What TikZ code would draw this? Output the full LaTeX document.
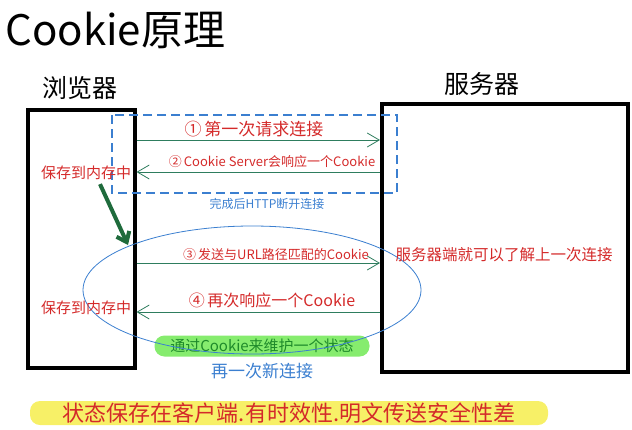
\documentclass[tikz,border=0pt]{standalone}
\usepackage{fontspec}
\setmainfont{Noto Sans CJK SC}
\usetikzlibrary{arrows.meta,positioning}
\definecolor{inkred}{HTML}{D42A2A}
\definecolor{inkteal}{HTML}{2E7D5E}
\definecolor{inkblue}{HTML}{3B7FD0}
\definecolor{inkgreen}{HTML}{1E8A2A}
\definecolor{darkgreen}{HTML}{1F6B3C}
\definecolor{hlgreen}{HTML}{86EC6E}
\definecolor{hlyellow}{HTML}{F7F067}
\tikzset{
  box/.style={draw, line width=4pt, inner sep=0pt},
  flow/.style={draw=inkteal, line width=0.8pt, -{Straight Barb[length=12pt,width=14pt,line width=0.8pt]}},
  note/.style={text=inkred, font=\fontsize{15}{17}\selectfont, inner sep=1pt},
}
\begin{document}
\begin{tikzpicture}[x=1pt,y=-1pt]
  \useasboundingbox (0,0) rectangle (632,429);
  % titles
  \node [anchor=west, font=\fontsize{42}{44}\selectfont] (title) at (2,30) {Cookie原理};
  \node [font=\fontsize{25}{27}\selectfont] (blabel) at (80,88) {浏览器};
  \node [font=\fontsize{25}{27}\selectfont] (slabel) at (482,84) {服务器};
  % the two ends
  \node [box, minimum width=107pt, minimum height=258pt] (browser) at (81,239) {};
  \node [box, minimum width=246pt, minimum height=268pt] (server) at (505,238) {};
  % first connection
  \draw [color=inkblue, dash pattern=on 9pt off 5pt, line width=1.2pt]
    (112,115) rectangle (397,193);
  \coordinate (b1) at (browser.east |- 0,140);
  \coordinate (s1) at (server.west |- 0,140);
  \coordinate (b2) at (browser.east |- 0,172);
  \coordinate (s2) at (server.west |- 0,172);
  \draw [flow] (b1) -- (s1);
  \draw [flow] (s2) -- (b2);
  \node [note, font=\fontsize{17}{19}\selectfont] (ask) at (254,129) {①\,第一次请求连接};
  \node [note, font=\fontsize{13}{15}\selectfont] (reply) at (272,162) {②\,Cookie Server会响应一个Cookie};
  \node [text=inkblue, font=\fontsize{12}{14}\selectfont] (close) at (267,204) {完成后HTTP断开连接};
  \node [note] (keep1) at (86,173) {保存到内存中};
  % second connection
  \node [fill=hlgreen, rounded corners=10pt, text=inkgreen, minimum width=215pt,
    minimum height=21pt, inner sep=0pt, font=\fontsize{15}{17}\selectfont] (state) at (262,346) {通过Cookie来维护一个状态};
  \draw [inkblue, line width=0.8pt] (252,290) ellipse [x radius=169, y radius=64];
  \coordinate (b3) at (browser.east |- 0,263);
  \coordinate (s3) at (server.west |- 0,263);
  \coordinate (b4) at (browser.east |- 0,312);
  \coordinate (s4) at (server.west |- 0,312);
  \draw [flow] (b3) -- (s3);
  \draw [flow] (s4) -- (b4);
  \node [note, font=\fontsize{13}{15}\selectfont] (send) at (276,255) {③\,发送与URL路径匹配的Cookie};
  \node [note, font=\fontsize{16}{18}\selectfont] (again) at (272,300) {④\,再次响应一个Cookie};
  \node [note] (keep2) at (86,308) {保存到内存中};
  \node [note, font=\fontsize{15.5}{17}\selectfont] (know) at (504,255) {服务器端就可以了解上一次连接};
  \node [text=inkblue, font=\fontsize{17}{19}\selectfont] (renew) at (262,371) {再一次新连接};
  \coordinate (turn) at (128,245);
  \draw [darkgreen, line width=4pt, -{Straight Barb[length=9pt,width=14pt,line width=4pt]}]
    (keep1.south -| 100,0) ++(0,3) -- (turn);
  % summary
  \node [fill=hlyellow, rounded corners=10pt, text=inkred, minimum width=518pt,
    minimum height=24pt, inner sep=0pt, font=\fontsize{22}{24}\selectfont] (sum) at (289,413) {状态保存在客户端.有时效性.明文传送安全性差};
\end{tikzpicture}
\end{document}
